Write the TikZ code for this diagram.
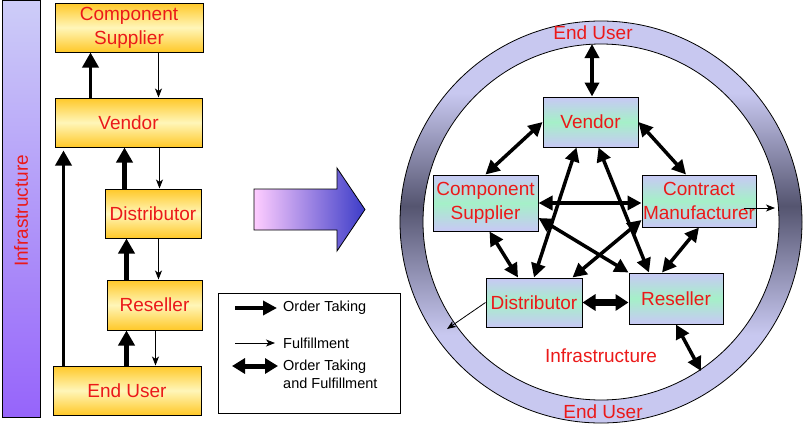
\documentclass[tikz,border=0pt]{standalone}
\usepackage{fontspec}
\setmainfont{Liberation Sans}
\usepackage{tikz}
\usetikzlibrary{arrows.meta}
\usepackage{xcolor}
\definecolor{boxred}{RGB}{235,25,25}
\definecolor{ytop}{RGB}{255,200,40}
\definecolor{ymid}{RGB}{255,246,185}
\definecolor{lav}{RGB}{200,200,245}
\definecolor{mint}{RGB}{165,240,200}
\definecolor{barTop}{RGB}{205,205,248}
\definecolor{barBot}{RGB}{150,100,250}
\definecolor{ringlight}{RGB}{200,200,240}
\definecolor{ringdark}{RGB}{85,85,112}
\definecolor{pinkend}{RGB}{255,205,255}
\definecolor{blueend}{RGB}{60,60,200}
\pgfdeclareverticalshading{ringshade}{100bp}{color(0bp)=(ringlight); color(25bp)=(ringlight); color(36bp)=(ringlight); color(52bp)=(ringdark); color(66bp)=(ringlight); color(75bp)=(ringlight); color(100bp)=(ringlight)}
\newcommand{\boxfont}{\fontsize{19}{24}\selectfont}
\newcommand{\keyfont}{\fontsize{14.5}{18}\selectfont}

\begin{document}
\begin{tikzpicture}[x=1pt, y=-1pt,
  ybox/.style={draw, line width=1pt, top color=ytop, bottom color=ytop, middle color=ymid, text=boxred, font=\boxfont, align=center, inner sep=0pt},
  gbox/.style={draw, line width=1pt, top color=lav, bottom color=lav, middle color=mint, text=boxred, font=\boxfont, align=center, inner sep=0pt},
  lbl/.style={text=boxred, font=\boxfont, inner sep=0pt},
  key/.style={font=\keyfont, align=left, anchor=west, inner sep=0pt},
  order/.style={line width=4.5pt, -{Triangle[length=15pt,width=16pt]}},
  fulfil/.style={line width=0.8pt, -{Stealth[length=9pt,width=7pt,inset=2.5pt]}},
  both/.style={line width=3.5pt, {Triangle[length=14pt,width=14pt]}-{Triangle[length=14pt,width=14pt]}}]
  \useasboundingbox (0,0) rectangle (805,426);

  % Infrastructure bar
  \shade[draw, line width=0.8pt, top color=barTop, bottom color=barBot] (2,0) rectangle (40,417);
  \node[lbl, rotate=90] (linf) at (21,211) {Infrastructure};

  % Linear chain
  \node[ybox, minimum width=148pt, minimum height=49pt] (lcs) at (129,27.5) {Component\\Supplier};
  \node[ybox, minimum width=147pt, minimum height=49pt] (lven) at (128.5,122.5) {Vendor};
  \node[ybox, minimum width=96pt, minimum height=49pt] (ldis) at (153,213.5) {Distributor};
  \node[ybox, minimum width=95pt, minimum height=50pt] (lres) at (154.5,305) {Reseller};
  \node[ybox, minimum width=148pt, minimum height=49pt] (lend) at (127,390.5) {End User};

  \draw[order, line width=3.5pt] ([xshift=36pt]lven.north west) -- ([xshift=36pt]lcs.south west);
  \draw[fulfil] ([xshift=104pt]lcs.south west) -- ([xshift=104pt]lcs.south west |- lven.north);
  \draw[order] ([xshift=20pt]ldis.north west) -- ([xshift=20pt]ldis.north west |- lven.south);
  \draw[fulfil] ([xshift=-43pt]lven.south east) -- ([xshift=-43pt]lven.south east |- ldis.north);
  \draw[order, line width=3.5pt, shorten >=3pt] ([xshift=11pt]lend.north west) -- ([xshift=11pt]lend.north west |- lven.south);
  \draw[order] ([xshift=20pt]lres.north west) -- ([xshift=20pt]lres.north west |- ldis.south);
  \draw[fulfil] ([xshift=-43pt]ldis.south east) -- ([xshift=-43pt]ldis.south east |- lres.north);
  \draw[order] ([xshift=20pt]lres.south west |- lend.north) -- ([xshift=20pt]lres.south west);
  \draw[fulfil] ([xshift=-47pt]lres.south east) -- ([xshift=-47pt]lres.south east |- lend.north);

  % Legend
  \draw[line width=1pt] (218,293) rectangle (400,413);
  \node[key] (tord) at (283,308) {Order Taking};
  \node[key] (tful) at (283,343) {Fulfillment};
  \node[key] (tboth) at (283,374) {Order Taking\\and Fulfillment};
  \draw[order, -{Triangle[length=14pt,width=14pt]}] ([xshift=-48pt]tord.west) -- ([xshift=-6pt]tord.west);
  \draw[fulfil] ([xshift=-48pt]tful.west) -- ([xshift=-8pt]tful.west);
  \draw[both, line width=5pt, {Triangle[length=13pt,width=15pt]}-{Triangle[length=13pt,width=15pt]}] ([xshift=-51pt,yshift=8pt]tboth.west) -- ([xshift=-5pt,yshift=8pt]tboth.west);

  % Big arrow
  \shade[draw, line width=0.8pt, left color=pinkend, right color=blueend] (254,189) -- (337,189) -- (337,168) -- (365,209.5) -- (337,251) -- (337,230) -- (254,230) -- cycle;

  % End user ring
  \shade[draw, line width=0.8pt, shading=ringshade, even odd rule] (601,222) circle[radius=201pt] (601,222) circle[radius=178pt];
  \node[lbl] (eutop) at (593,33) {End User};
  \node[lbl] (eubot) at (603,412) {End User};
  \node[lbl] (rinf) at (601,356) {Infrastructure};
  \coordinate (ringtop) at (592,44);
  \coordinate (ringse) at (701,371);
  \coordinate (ringsw) at (447,329);
  \coordinate (ringe) at (775,208);

  % Network
  \node[gbox, minimum width=95pt, minimum height=50pt] (rven) at (590.5,122) {Vendor};
  \node[gbox, minimum width=105pt, minimum height=56pt] (rcs) at (485.5,203) {Component\\Supplier};
  \node[gbox, minimum width=114pt, minimum height=52pt] (rcm) at (699,201) {Contract\\Manufacturer};
  \node[gbox, minimum width=96pt, minimum height=49pt] (rdis) at (534,302.5) {Distributor};
  \node[gbox, minimum width=94pt, minimum height=51pt] (rres) at (676,298.5) {Reseller};

  \draw[both, line width=4.5pt] (ringtop) -- (ringtop |- rven.north);
  \draw[both] (rven.west) -- (rcs.north);
  \draw[both] (rven.east) -- ([xshift=-13pt]rcm.north);
  \draw[both] ([xshift=-14pt]rven.south) -- (rdis.north);
  \draw[both] ([xshift=8pt]rven.south) -- ([xshift=-27pt]rres.north);
  \draw[both] (rcs.east) -- (rcs.east -| rcm.west);
  \draw[both] ([yshift=-15pt]rcs.east) -- (rres.north west);
  \draw[both] ([yshift=-19pt]rcm.west) -- ([xshift=-10pt]rdis.north east);
  \draw[both] ([xshift=4pt]rcs.south) -- ([xshift=-16pt]rdis.north);
  \draw[both] (rcm.south) -- ([xshift=-14pt]rres.north);
  \draw[both, line width=6.5pt, {Triangle[length=13pt,width=16pt]}-{Triangle[length=13pt,width=16pt]}] (rdis.east) -- (rdis.east -| rres.west);
  \draw[both] (rres.south) -- (ringse);
  \draw[fulfil] (rdis.west) -- (ringsw);
  \draw[fulfil] ([xshift=-13pt,yshift=-7pt]rcm.east) -- (ringe);
\end{tikzpicture}
\end{document}
